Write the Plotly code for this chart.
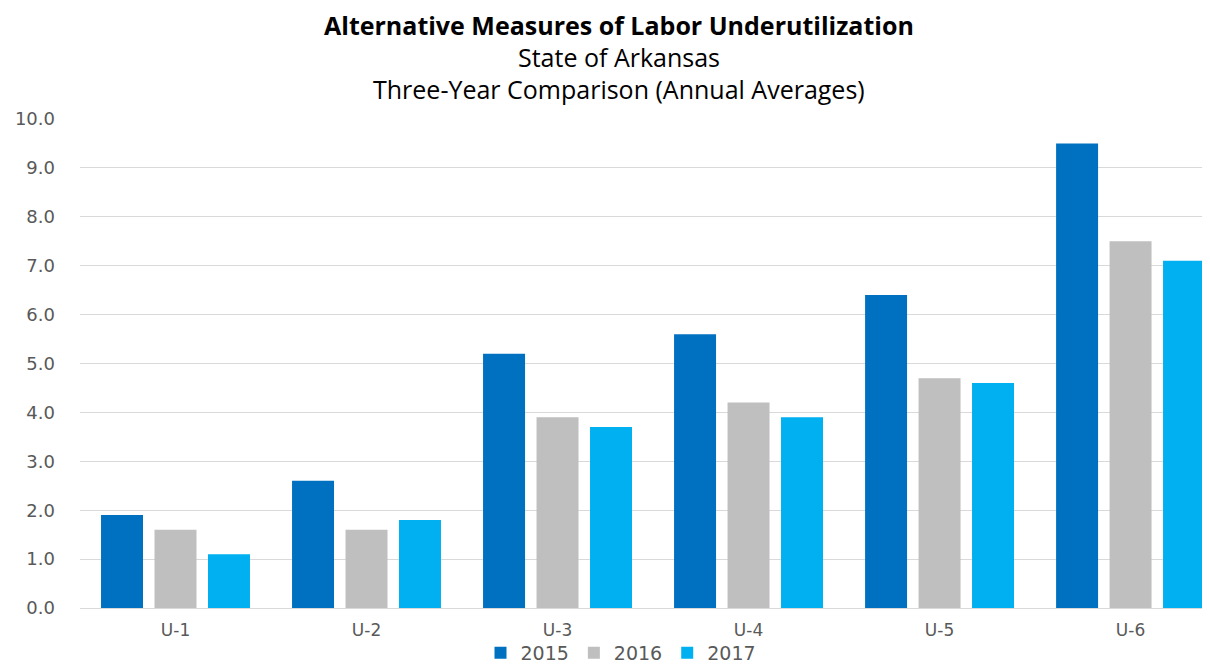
import plotly.graph_objects as go

categories = ["U-1", "U-2", "U-3", "U-4", "U-5", "U-6"]
years = ["2015", "2016", "2017"]
v2015 = [1.9, 2.6, 5.2, 5.6, 6.4, 9.5]
v2016 = [1.6, 1.6, 3.9, 4.2, 4.7, 7.5]
v2017 = [1.1, 1.8, 3.7, 3.9, 4.6, 7.1]
colors = ["#0070C0", "#BFBFBF", "#00B0F0"]
y_ticks = [0, 1, 2, 3, 4, 5, 6, 7, 8, 9, 10]
y_tick_labels = ["0.0", "1.0", "2.0", "3.0", "4.0", "5.0", "6.0", "7.0", "8.0", "9.0", "10.0"]

fig = go.Figure()
for name, vals, col in zip(years, [v2015, v2016, v2017], colors):
    fig.add_trace(go.Bar(x=categories, y=vals, name=name, marker_color=col,
                         marker_line_width=0))

# the page body has an 8px margin, so the figure is drawn 8px in from the corner
OFF = 8
W, H = 1210 - 2 * OFF, 665 - OFF
L, R, T, B = 80 - OFF, 0, 119 - OFF, 665 - 608
ph = H - T - B

def py(pix):
    return (H - B - (pix - OFF)) / ph

def px(pix):
    return (pix - OFF - L) / (W - L - R)

title_lines = [
    ("<b>Alternative Measures of Labor Underutilization</b>", 25),
    ("State of Arkansas", 57),
    ("Three-Year Comparison (Annual Averages)", 89),
]
for txt, ypix in title_lines:
    fig.add_annotation(text=txt, xref="paper", yref="paper", x=px(619), y=py(ypix),
                       xanchor="center", yanchor="middle", showarrow=False,
                       font=dict(family="Open Sans", size=25, color="#000000"))

fig.update_layout(
    width=W, height=H,
    margin=dict(l=L, r=R, t=T, b=B, pad=0, autoexpand=False),
    paper_bgcolor="white", plot_bgcolor="white",
    barmode="group", bargap=0.16, bargroupgap=0.215,
    showlegend=True,
    legend=dict(orientation="h", xref="container", yref="container",
                x=(621 - OFF) / W, y=(665 - 653) / H, xanchor="center", yanchor="middle",
                font=dict(family="DejaVu Sans", size=19, color="#595959"),
                traceorder="normal", itemwidth=30, tracegroupgap=0,
                bgcolor="rgba(0,0,0,0)"),
    font=dict(family="DejaVu Sans", color="#595959"),
)
fig.update_xaxes(range=[-0.5, 5.374], showgrid=False, showline=False, ticks="",
                 ticklabelstandoff=10,
                 tickfont=dict(family="DejaVu Sans", size=17, color="#595959"),
                 fixedrange=True)
fig.update_yaxes(range=[0, 10], tickvals=y_ticks, ticktext=y_tick_labels,
                 showgrid=True, gridcolor="#D9D9D9", gridwidth=1,
                 zeroline=True, zerolinecolor="#D9D9D9", zerolinewidth=1,
                 showline=False, ticks="", ticklabelstandoff=24,
                 tickfont=dict(family="DejaVu Sans", size=18, color="#595959"))

fig.write_html("out.html")
